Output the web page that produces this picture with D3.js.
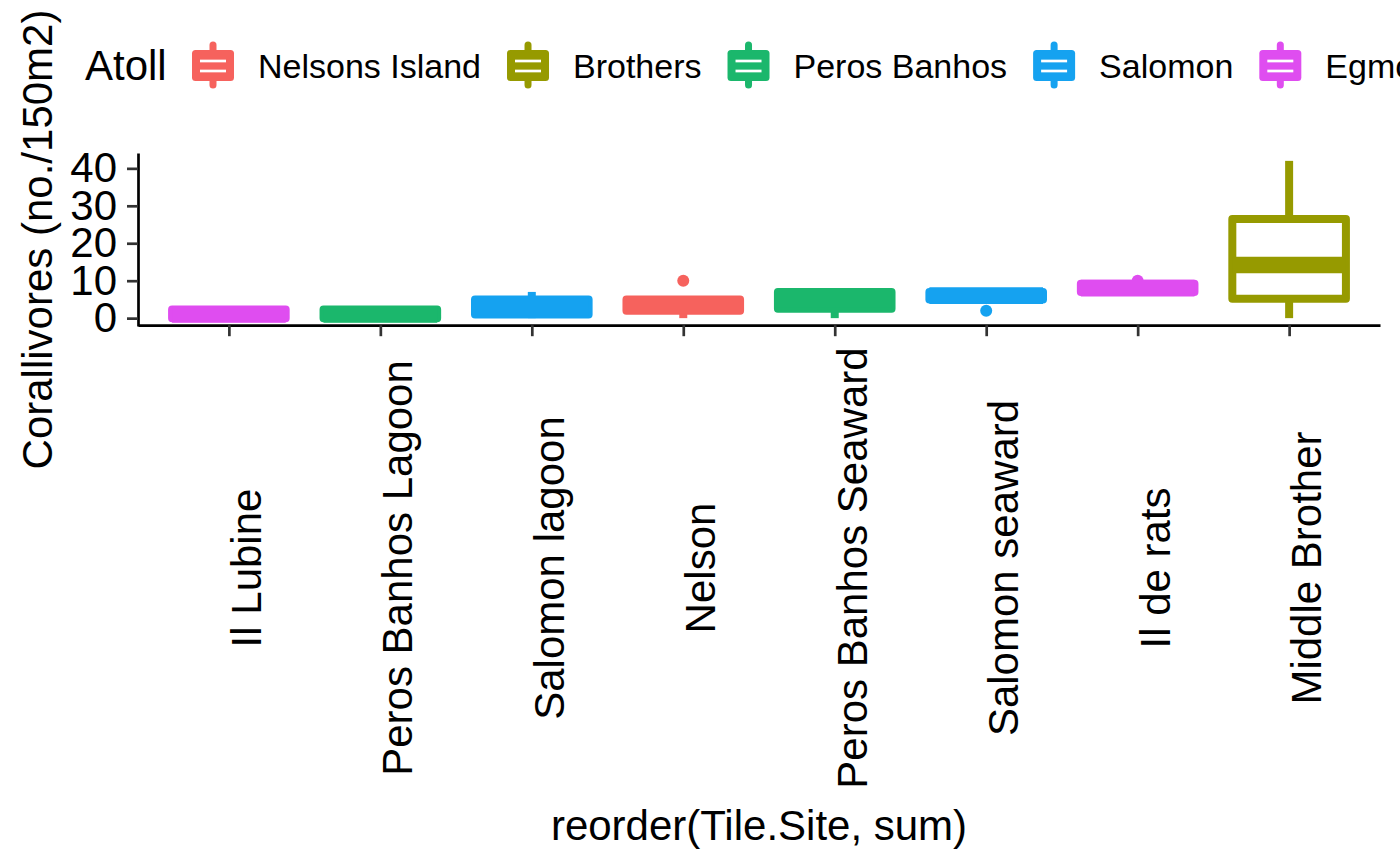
<!DOCTYPE html>
<html>
<head>
<meta charset="utf-8">
<script src="https://cdn.jsdelivr.net/npm/d3@7"></script>
<style>
  html, body { margin: 0; padding: 0; background: #fff; }
  svg { display: block; font-family: "Liberation Sans", Arial, Helvetica, sans-serif; }
</style>
</head>
<body>
<svg id="chart" width="1400" height="865"></svg>
<script>
// ---------------- data ----------------
const sites    = ["Il Lubine", "Peros Banhos Lagoon", "Salomon lagoon", "Nelson",
                  "Peros Banhos Seaward", "Salomon seaward", "Il de rats", "Middle Brother"];
const siteAtoll = ["Egmont", "Peros Banhos", "Salomon", "Nelsons Island",
                  "Peros Banhos", "Salomon", "Egmont", "Brothers"];
const lowerWhisker = [0, 0, 0, 0, 0, 5, 7, 0];
const q1Values     = [0, 0, 1, 2, 2.5, 5, 7, 5.2];
const medians      = [1, 1, 3, 3.5, 5, 6, 8, 14.2];
const q3Values     = [2.3, 2.3, 5, 5, 7, 7, 9.2, 26.5];
const upperWhisker = [2.3, 2.3, 7, 5, 7, 7, 9.2, 42];
const outliers     = [[], [], [], [10], [], [2], [10], []];

const atolls      = ["Nelsons Island", "Brothers", "Peros Banhos", "Salomon", "Egmont"];
const atollColors = ["#F6625D", "#969A00", "#1BB76C", "#15A2F0", "#DF4DF0"];
const yTicks      = [0, 10, 20, 30, 40];

const xTitle = "reorder(Tile.Site, sum)";
const yTitle = "Corallivores (no./150m2)";
const legendTitle = "Atoll";

// ---------------- layout ----------------
const svg = d3.select("#chart");
const panel = { left: 138, right: 1380, top: 153, bottom: 326 };

const x = d3.scalePoint().domain(sites).range([panel.left, panel.right]).padding(0.6);
const y = d3.scaleLinear().domain([-2.1, 44.1]).range([panel.bottom, panel.top]);
const color = d3.scaleOrdinal().domain(atolls).range(atollColors);

const boxW = x.step() * 0.75;
const lw = 8;

const data = sites.map((s, i) => ({
  site: s, atoll: siteAtoll[i], lo: lowerWhisker[i], q1: q1Values[i],
  med: medians[i], q3: q3Values[i], hi: upperWhisker[i], out: outliers[i]
}));

// ---------------- boxes ----------------
const g = svg.append("g");
data.forEach(d => {
  const cx = x(d.site), c = color(d.atoll);
  const gg = g.append("g");
  // outliers
  gg.selectAll("circle").data(d.out).join("circle")
    .attr("cx", cx).attr("cy", v => y(v)).attr("r", 6).attr("fill", c);
  // whiskers
  gg.append("line").attr("x1", cx).attr("x2", cx).attr("y1", y(d.q3)).attr("y2", y(d.hi))
    .attr("stroke", c).attr("stroke-width", lw);
  gg.append("line").attr("x1", cx).attr("x2", cx).attr("y1", y(d.q1)).attr("y2", y(d.lo))
    .attr("stroke", c).attr("stroke-width", lw);
  // box
  gg.append("rect")
    .attr("x", cx - boxW / 2).attr("width", boxW)
    .attr("y", y(d.q3)).attr("height", Math.max(0, y(d.q1) - y(d.q3)))
    .attr("fill", "#fff").attr("stroke", c).attr("stroke-width", lw)
    .attr("stroke-linejoin", "round");
  // median
  gg.append("line")
    .attr("x1", cx - boxW / 2).attr("x2", cx + boxW / 2)
    .attr("y1", y(d.med)).attr("y2", y(d.med))
    .attr("stroke", c).attr("stroke-width", lw * 2.08);
});

// ---------------- axes ----------------
const yAxis = svg.append("g").attr("transform", `translate(${panel.left},0)`)
  .call(d3.axisLeft(y).tickValues(yTicks).tickSize(11).tickSizeOuter(0).tickPadding(10));
yAxis.select(".domain").attr("stroke", "#000").attr("stroke-width", 2.7);
yAxis.selectAll(".tick line").attr("stroke", "#333").attr("stroke-width", 2.7);
yAxis.selectAll(".tick text").attr("font-size", 42).attr("fill", "#000")
  .attr("font-family", "'Liberation Sans', Arial, sans-serif");

const xAxis = svg.append("g").attr("transform", `translate(0,${panel.bottom - 0.8})`)
  .call(d3.axisBottom(x).tickSize(11).tickSizeOuter(0).tickFormat(() => ""));
xAxis.select(".domain").attr("stroke", "#000").attr("stroke-width", 2.7);
xAxis.selectAll(".tick line").attr("stroke", "#333").attr("stroke-width", 2.7);

// rotated x tick labels
svg.append("g").selectAll("text").data(sites).join("text")
  .attr("transform", s => `translate(${x(s) + 32},568) rotate(-90)`)
  .attr("text-anchor", "middle")
  .attr("font-size", 42).attr("fill", "#000")
  .text(s => s);

// axis titles
svg.append("text")
  .attr("x", (panel.left + panel.right) / 2).attr("y", 840)
  .attr("text-anchor", "middle").attr("font-size", 42).attr("fill", "#000")
  .text(xTitle);

svg.append("text")
  .attr("transform", `translate(52,${(panel.top + panel.bottom) / 2}) rotate(-90)`)
  .attr("text-anchor", "middle").attr("font-size", 42).attr("fill", "#000")
  .text(yTitle);

// ---------------- legend ----------------
const leg = svg.append("g");
leg.append("text").attr("x", 85).attr("y", 80).attr("font-size", 42).attr("fill", "#000")
  .text(legendTitle);

let kx = 192;
atolls.forEach(a => {
  const c = color(a);
  const kc = kx + 21;
  leg.append("line").attr("x1", kc).attr("x2", kc).attr("y1", 45).attr("y2", 85)
    .attr("stroke", c).attr("stroke-width", 7).attr("stroke-linecap", "round");
  leg.append("rect").attr("x", kx).attr("y", 50).attr("width", 42).attr("height", 31)
    .attr("rx", 3.5).attr("fill", c);
  [61, 71].forEach(yy => {
    leg.append("line").attr("x1", kx + 8).attr("x2", kx + 34).attr("y1", yy).attr("y2", yy)
      .attr("stroke", "#fff").attr("stroke-width", 2.7);
  });
  const t = leg.append("text").attr("x", kx + 66).attr("y", 66)
    .attr("dominant-baseline", "central")
    .attr("font-size", 34).attr("fill", "#000").text(a);
  kx = kx + 66 + t.node().getComputedTextLength() + 26;
});
</script>
</body>
</html>
